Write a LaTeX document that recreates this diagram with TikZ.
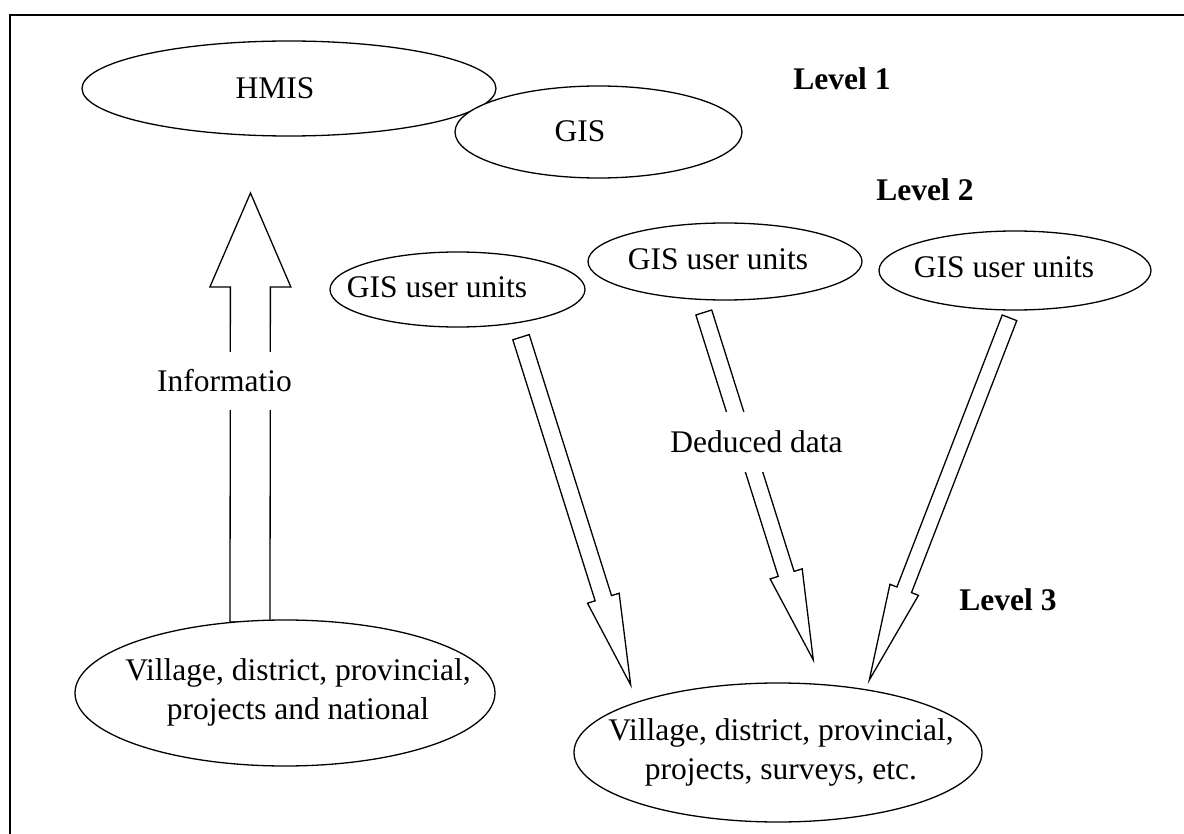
\documentclass[tikz,border=0pt]{standalone}
\usepackage{fontspec}
\setmainfont{Liberation Serif}
\usetikzlibrary{shapes.geometric,calc}
\newcommand{\blockarrow}[5]{%
  \coordinate (#2-b) at ($(#2)!#5!(#1)$);
  \draw[blockarr] ($(#1)!#3!90:(#2)$) -- ($(#2-b)!#3!-90:(#1)$) -- ($(#2-b)!#4!-90:(#1)$) -- (#2)
    -- ($(#2-b)!#4!90:(#1)$) -- ($(#2-b)!#3!90:(#1)$) -- ($(#1)!#3!-90:(#2)$) -- cycle;}
\begin{document}
\begin{tikzpicture}[x=1pt,y=-1pt,
  ell/.style={draw, ellipse, fill=white, line width=1.3pt, inner sep=0pt},
  txt/.style={font=\fontsize{31.5pt}{39pt}\selectfont, inner sep=0pt, align=center},
  lvl/.style={font=\fontsize{31.5pt}{39pt}\selectfont\bfseries, inner sep=0pt},
  blockarr/.style={draw, fill=white, line width=1.3pt, line join=miter},
  gaplbl/.style={txt, fill=white, inner xsep=2pt}]
\useasboundingbox (0,0) rectangle (1184,834);
% frame (cut by the page at right and bottom)
\coordinate (fr1) at (1184,15);
\coordinate (fr2) at (10,15);
\coordinate (fr3) at (10,834);
\draw[line width=2pt] (fr1) -- (fr2) -- (fr3);

% arrow end points
\coordinate (t0) at (250,622);   \coordinate (h0) at (250.5,193);
\coordinate (t1) at (521,337.2); \coordinate (h1) at (630.7,685);
\coordinate (t2) at (703.8,312.5); \coordinate (h2) at (813.3,660);
\coordinate (t3) at (1009.5,317.8); \coordinate (h3) at (869.3,680);

\blockarrow{t0}{h0}{20pt}{40.5pt}{94pt}
\blockarrow{t1}{h1}{8.6pt}{16.6pt}{91pt}
\blockarrow{t2}{h2}{8.3pt}{16.8pt}{90.3pt}
\blockarrow{t3}{h3}{7.8pt}{15.3pt}{96.7pt}

% ellipses
\node[ell, minimum width=414pt, minimum height=95pt] (hmis) at (289,88.5) {};
\node[ell, minimum width=287pt, minimum height=92pt] (gis) at (598.5,132) {};
\node[ell, minimum width=255pt, minimum height=75pt] (u1) at (457.5,289.5) {};
\node[ell, minimum width=274pt, minimum height=77pt] (u2) at (725,261.5) {};
\node[ell, minimum width=272pt, minimum height=79pt] (u3) at (1015,270.5) {};
\node[ell, minimum width=420pt, minimum height=146pt] (vl) at (285,693) {};
\node[ell, minimum width=408pt, minimum height=139pt] (vr) at (778,752.5) {};

% texts
\node[txt] (hmist) at (275,88) {HMIS};
\node[txt] (gist) at (580,131.5) {GIS};
\node[txt] (u1t) at (437,287) {GIS user units};
\node[txt] (u2t) at (718,259.5) {GIS user units};
\node[txt] (u3t) at (1004,267) {GIS user units};
\node[txt] (vlt) at (298,692) {Village, district, provincial,\\projects and national};
\node[txt] (vrt) at (781,752) {Village, district, provincial,\\projects, surveys, etc.};

\node[gaplbl, minimum height=58pt] (info) at (224.5,381) {Informatio};
\node[gaplbl, minimum height=60pt] (ded) at (756.5,442) {Deduced data};

\node[lvl] (l1) at (842,79) {Level 1};
\node[lvl] (l2) at (925,190) {Level 2};
\node[lvl] (l3) at (1008,600) {Level 3};
\end{tikzpicture}
\end{document}
